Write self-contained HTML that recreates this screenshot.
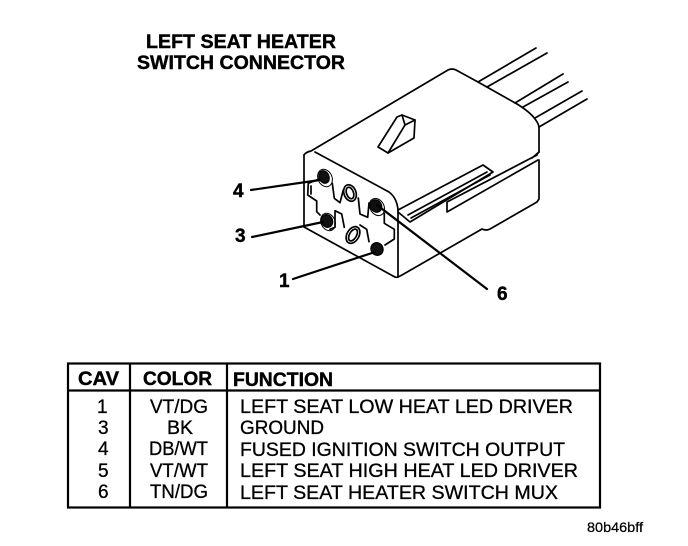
<!DOCTYPE html>
<html lang="en">
<head>
<meta charset="utf-8">
<title>Left Seat Heater Switch Connector</title>
<style>
html,body{margin:0;padding:0;background:#fff}
svg{display:block}
text{font-family:"Liberation Sans",Arial,sans-serif;fill:#000}
.b{font-weight:bold;stroke:#000;stroke-width:.4px}
.r{font-size:19px;stroke:#000;stroke-width:.3px}
.h{font-size:19px;font-weight:bold;stroke:#000;stroke-width:.4px}
.l{fill:none;stroke:#000;stroke-width:1.7;stroke-linejoin:round;stroke-linecap:round}
.t{fill:none;stroke:#000;stroke-width:2.2;stroke-linecap:round}
</style>
</head>
<body>
<svg width="688" height="546" viewBox="0 0 688 546" xmlns="http://www.w3.org/2000/svg">
<rect width="688" height="546" fill="#fff"/>

<text class="b" x="146" y="48" font-size="19" textLength="190" lengthAdjust="spacingAndGlyphs">LEFT SEAT HEATER</text>
<text class="b" x="137" y="69" font-size="19" textLength="208" lengthAdjust="spacingAndGlyphs">SWITCH CONNECTOR</text>

<g class="l">
<!-- wires -->
<path d="M478 82L536 48M487 87L547 53M515 103L563 74M523 107L568 82M535 118L582 91M539 127L587 99"/>
<!-- top shell -->
<path d="M304 155Q306 152 311 151L448 70Q452 68 456 70L478 82L517 104Q530 112 535 119Q539 124 539 128L539 152L535 156"/>
<!-- front face -->
<path d="M304 155L304 227L393 276Q396 278 398 277L398 210Q397 198 389 192L315 152"/>
<!-- lower body -->
<path d="M539 152L532 158M539 160L539 199L537 202L490 229Q486 231 482 229L402 275L398 277"/>
<!-- slot -->
<path d="M398 210L483 165L493 172L410 222L398 212"/>
<path d="M411 218L490 175M408 215L487 172"/>
<path d="M447 202L447 212L538 160M447 202L537 155"/>
<!-- latch -->
<path d="M378 147L397 117L402 115L415 120L414 138L388 153L378 147Z"/>
<path d="M402 115L405 125L415 120M405 125L388 153"/>
<!-- cavity outline -->
<path d="M318.3 179.3L308.3 183.3L307.7 195L316.7 201L316.7 211.7L320 215M330 229.3L335 227.3L335 210.7L341.7 214L344.3 227.3M360 225L366.7 229.3L369 241.7M385 245L394.3 239L394.3 229.3L384.3 223.3L384.3 213.3M369 203L367.7 217.3L360 214L358.3 198M343.3 190L340 202.7L334.3 198.3L332.3 183.3"/>
<path d="M311 186L311 194"/>
<!-- ovals -->
<ellipse cx="350" cy="193" rx="6" ry="8.5" transform="rotate(-20 350 193)"/>
<ellipse cx="350" cy="193" rx="3.5" ry="6" transform="rotate(-20 350 193)"/>
<ellipse cx="353" cy="235" rx="6" ry="9" transform="rotate(30 353 235)"/>
<ellipse cx="353" cy="235" rx="3.5" ry="6.5" transform="rotate(30 353 235)"/>
</g>

<!-- pins -->
<g fill="#111" stroke="#000" stroke-width="1.2">
<ellipse cx="324" cy="177" rx="5" ry="6.5" transform="rotate(-25 324 177)"/>
<ellipse cx="327" cy="221" rx="5.5" ry="6.5" transform="rotate(-25 327 221)"/>
<ellipse cx="376" cy="206" rx="5.5" ry="6.5" transform="rotate(-30 376 206)"/>
<ellipse cx="377" cy="249" rx="6" ry="6.5" transform="rotate(-30 377 249)"/>
</g>
<g fill="none" stroke="#000" stroke-width="1">
<ellipse cx="325" cy="178" rx="7" ry="9" transform="rotate(-25 325 178)"/>
<ellipse cx="328" cy="222" rx="7" ry="9" transform="rotate(-25 328 222)"/>
<ellipse cx="377" cy="207" rx="7" ry="9" transform="rotate(-30 377 207)"/>
</g>

<!-- leaders -->
<g class="t">
<path d="M251 190L320 180M252 237L323 222M293 279L375 252M377 205L487 289"/>
</g>

<text class="b" x="233" y="197" font-size="19">4</text>
<text class="b" x="235" y="242" font-size="19">3</text>
<text class="b" x="279" y="287" font-size="19">1</text>
<text class="b" x="497" y="300" font-size="19">6</text>

<!-- table -->
<rect x="68" y="363.5" width="532" height="144" fill="none" stroke="#000" stroke-width="2.2"/>
<path d="M68 390.5H600M130 363V508M227 363V508" stroke="#000" stroke-width="2.2" fill="none"/>

<text class="h" x="78" y="385" textLength="41" lengthAdjust="spacingAndGlyphs">CAV</text>
<text class="h" x="143" y="385" textLength="69" lengthAdjust="spacingAndGlyphs">COLOR</text>
<text class="h" x="233" y="386" textLength="100" lengthAdjust="spacingAndGlyphs">FUNCTION</text>

<text class="r" x="97" y="413">1</text>
<text class="r" x="98" y="434">3</text>
<text class="r" x="98" y="455">4</text>
<text class="r" x="98" y="477">5</text>
<text class="r" x="98" y="498">6</text>

<text class="r" x="150" y="413" textLength="58" lengthAdjust="spacingAndGlyphs">VT/DG</text>
<text class="r" x="167" y="434" textLength="26" lengthAdjust="spacingAndGlyphs">BK</text>
<text class="r" x="149" y="455" textLength="59" lengthAdjust="spacingAndGlyphs">DB/WT</text>
<text class="r" x="150" y="477" textLength="58" lengthAdjust="spacingAndGlyphs">VT/WT</text>
<text class="r" x="150" y="498" textLength="58" lengthAdjust="spacingAndGlyphs">TN/DG</text>

<text class="r" x="240" y="413" textLength="333" lengthAdjust="spacingAndGlyphs">LEFT SEAT LOW HEAT LED DRIVER</text>
<text class="r" x="240" y="434" textLength="84" lengthAdjust="spacingAndGlyphs">GROUND</text>
<text class="r" x="240" y="456" textLength="325" lengthAdjust="spacingAndGlyphs">FUSED IGNITION SWITCH OUTPUT</text>
<text class="r" x="240" y="477" textLength="338" lengthAdjust="spacingAndGlyphs">LEFT SEAT HIGH HEAT LED DRIVER</text>
<text class="r" x="240" y="499" textLength="318" lengthAdjust="spacingAndGlyphs">LEFT SEAT HEATER SWITCH MUX</text>

<text x="587" y="532" font-size="14" textLength="56" lengthAdjust="spacingAndGlyphs" stroke="#000" stroke-width=".25">80b46bff</text>
</svg>
</body>
</html>
